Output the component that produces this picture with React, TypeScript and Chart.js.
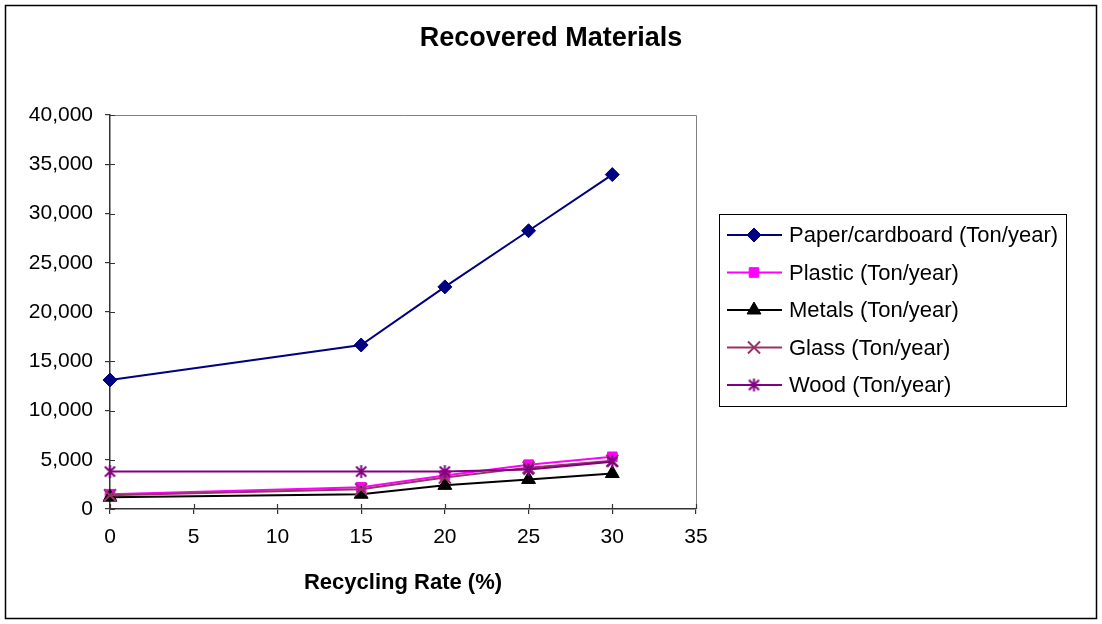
import React, { useEffect, useRef } from 'react';
import { Chart, registerables } from 'chart.js';
import { drawPoint } from 'chart.js/helpers';

Chart.register(...registerables);

// Recycling rate (%) for each observation
const recyclingRates = [0, 15, 20, 25, 30];

// Recovered tonnage per year for each material
const paperValues = [13100, 16650, 22550, 28250, 33950];
const plasticValues = [1500, 2200, 3400, 4500, 5300];
const metalsValues = [1200, 1500, 2400, 3000, 3600];
const glassValues = [1400, 2000, 3200, 4200, 4900];
const woodValues = [3800, 3800, 3800, 4000, 4800];

const seriesNames = [
  'Paper/cardboard (Ton/year)',
  'Plastic (Ton/year)',
  'Metals (Ton/year)',
  'Glass (Ton/year)',
  'Wood (Ton/year)',
];

const chartTitle = 'Recovered Materials';
const xAxisTitle = 'Recycling Rate (%)';

const xMin = 0;
const xMax = 35;
const xStep = 5;
const yMin = 0;
const yMax = 40000;
const yStep = 5000;

const FONT = '"Liberation Sans", Arial, sans-serif';

// Asterisk marker: an X with a vertical stroke through it
function makeAsterisk(color: string, r: number): HTMLCanvasElement {
  const size = Math.ceil(r * 2 + 4);
  const c = document.createElement('canvas');
  c.width = size;
  c.height = size;
  const ctx = c.getContext('2d')!;
  const m = size / 2;
  const d = r * 0.78;
  ctx.strokeStyle = color;
  ctx.lineWidth = 2;
  ctx.beginPath();
  ctx.moveTo(m - d, m - d);
  ctx.lineTo(m + d, m + d);
  ctx.moveTo(m + d, m - d);
  ctx.lineTo(m - d, m + d);
  ctx.moveTo(m, m - r);
  ctx.lineTo(m, m + r);
  ctx.stroke();
  return c;
}

const toPoints = (ys: number[]) => recyclingRates.map((x, i) => ({ x, y: ys[i] }));

// Outer frame, plot-area frame and tick marks that cross the axes
const framePlugin = {
  id: 'frame',
  beforeDraw(chart: any) {
    const { ctx, width, height } = chart;
    ctx.save();
    ctx.fillStyle = '#ffffff';
    ctx.fillRect(0, 0, width, height);
    ctx.strokeStyle = '#000000';
    ctx.lineWidth = 1.5;
    ctx.strokeRect(5.5, 5.5, width - 11, height - 11);
    ctx.restore();
  },
  beforeDatasetsDraw(chart: any) {
    const { ctx, chartArea } = chart;
    const { left, right, top, bottom } = chartArea;
    ctx.save();
    ctx.strokeStyle = '#808080';
    ctx.lineWidth = 1;
    ctx.beginPath();
    ctx.moveTo(left, top + 0.5);
    ctx.lineTo(right + 0.5, top + 0.5);
    ctx.lineTo(right + 0.5, bottom);
    ctx.stroke();

    ctx.strokeStyle = '#333333';
    ctx.lineWidth = 1.2;
    ctx.beginPath();
    const xs = chart.scales.x;
    xs.ticks.forEach((t: any) => {
      const px = Math.round(xs.getPixelForValue(t.value)) + 0.5;
      ctx.moveTo(px, bottom);
      ctx.lineTo(px, bottom - 5);
    });
    const ys = chart.scales.y;
    ys.ticks.forEach((t: any) => {
      const py = Math.round(ys.getPixelForValue(t.value)) + 0.5;
      ctx.moveTo(left, py);
      ctx.lineTo(left + 5, py);
    });
    ctx.stroke();
    ctx.restore();
  },
};

// Boxed legend with a line segment and marker for each series
const legendBoxPlugin = {
  id: 'legendBox',
  afterDraw(chart: any) {
    const { ctx } = chart;
    const boxLeft = 719.5;
    const boxTop = 214.5;
    const boxW = 347;
    const boxH = 192;
    ctx.save();
    ctx.strokeStyle = '#000000';
    ctx.lineWidth = 1;
    ctx.strokeRect(boxLeft, boxTop, boxW, boxH);
    const rowStart = 235;
    const rowGap = 37.5;
    chart.data.datasets.forEach((ds: any, i: number) => {
      const y = rowStart + i * rowGap;
      ctx.strokeStyle = ds.borderColor;
      ctx.lineWidth = ds.borderWidth;
      ctx.beginPath();
      ctx.moveTo(727, y);
      ctx.lineTo(782, y);
      ctx.stroke();
      ctx.fillStyle = ds.pointBackgroundColor;
      ctx.strokeStyle = ds.pointBorderColor;
      ctx.lineWidth = ds.pointBorderWidth;
      drawPoint(ctx, { pointStyle: ds.pointStyle, radius: ds.pointRadius, rotation: 0, borderWidth: ds.pointBorderWidth }, 754, y);
      ctx.fillStyle = '#000000';
      ctx.font = `22px ${FONT}`;
      ctx.textBaseline = 'middle';
      ctx.textAlign = 'left';
      ctx.fillText(ds.label, 789, y + 1);
    });
    ctx.restore();
  },
};

export default function App() {
  const canvasRef = useRef<HTMLCanvasElement | null>(null);

  useEffect(() => {
    const canvas = canvasRef.current;
    if (!canvas) return;

    const star = makeAsterisk('#800080', 6.5);

    const base = { showLine: true, borderWidth: 2, pointBorderWidth: 1, clip: false as const };

    const chart = new Chart(canvas, {
      type: 'scatter',
      data: {
        datasets: [
          {
            ...base,
            label: seriesNames[0],
            data: toPoints(paperValues),
            borderColor: '#000080',
            pointBackgroundColor: '#000080',
            pointBorderColor: '#000080',
            pointStyle: 'rectRot',
            pointRadius: 7,
            order: 5,
          },
          {
            ...base,
            label: seriesNames[1],
            data: toPoints(plasticValues),
            borderColor: '#ff00ff',
            pointBackgroundColor: '#ff00ff',
            pointBorderColor: '#ff00ff',
            pointStyle: 'rect',
            pointRadius: 6.8,
            order: 4,
          },
          {
            ...base,
            label: seriesNames[2],
            data: toPoints(metalsValues),
            borderColor: '#000000',
            pointBackgroundColor: '#000000',
            pointBorderColor: '#000000',
            pointStyle: 'triangle',
            pointRadius: 8,
            order: 3,
          },
          {
            ...base,
            label: seriesNames[3],
            data: toPoints(glassValues),
            borderColor: '#993366',
            pointBackgroundColor: '#993366',
            pointBorderColor: '#993366',
            pointBorderWidth: 2,
            pointStyle: 'crossRot',
            pointRadius: 8.5,
            order: 2,
          },
          {
            ...base,
            label: seriesNames[4],
            data: toPoints(woodValues),
            borderColor: '#800080',
            pointBackgroundColor: '#800080',
            pointBorderColor: '#800080',
            pointStyle: star as any,
            pointRadius: 7,
            order: 1,
          },
        ],
      },
      options: {
        animation: false,
        responsive: false,
        maintainAspectRatio: false,
        events: [],
        layout: { padding: 0 },
        plugins: {
          legend: { display: false },
          tooltip: { enabled: false },
          title: {
            display: true,
            text: chartTitle,
            color: '#000000',
            font: { family: FONT, size: 27, weight: 'bold' },
            padding: { top: 22.5, bottom: 60.1 },
          },
        },
        scales: {
          x: {
            type: 'linear',
            min: xMin,
            max: xMax,
            ticks: {
              stepSize: xStep,
              color: '#000000',
              font: { family: FONT, size: 21 },
              padding: 11,
              maxRotation: 0,
            },
            grid: { drawOnChartArea: false, drawTicks: true, tickLength: 5, color: '#333333', lineWidth: 1.2 },
            border: { display: true, color: '#333333', width: 1.5 },
            title: {
              display: true,
              text: xAxisTitle,
              color: '#000000',
              font: { family: FONT, size: 22, weight: 'bold' },
              padding: { top: 0, bottom: 28 },
            },
            afterFit(scale: any) {
              scale.height = 115;
            },
          },
          y: {
            type: 'linear',
            min: yMin,
            max: yMax,
            ticks: {
              stepSize: yStep,
              color: '#000000',
              font: { family: FONT, size: 21 },
              padding: 12,
              callback: (v: any) => Number(v).toLocaleString('en-US'),
            },
            grid: { drawOnChartArea: false, drawTicks: true, tickLength: 5, color: '#333333', lineWidth: 1.2 },
            border: { display: true, color: '#333333', width: 1.5 },
            afterFit(scale: any) {
              scale.width = 110;
            },
          },
          // Empty right-hand band that reserves room for the legend box
          legendSpace: {
            type: 'linear',
            position: 'right',
            display: true,
            ticks: { display: false },
            grid: { display: false, drawTicks: false },
            border: { display: false },
            afterFit(scale: any) {
              scale.width = 406;
            },
          },
        },
      },
      plugins: [framePlugin, legendBoxPlugin],
    });

    return () => chart.destroy();
  }, []);

  return (
    <div style={{ position: 'absolute', left: 0, top: 0, width: 1102, height: 624 }}>
      <canvas ref={canvasRef} width={1102} height={624} style={{ display: 'block', width: 1102, height: 624 }} />
    </div>
  );
}
